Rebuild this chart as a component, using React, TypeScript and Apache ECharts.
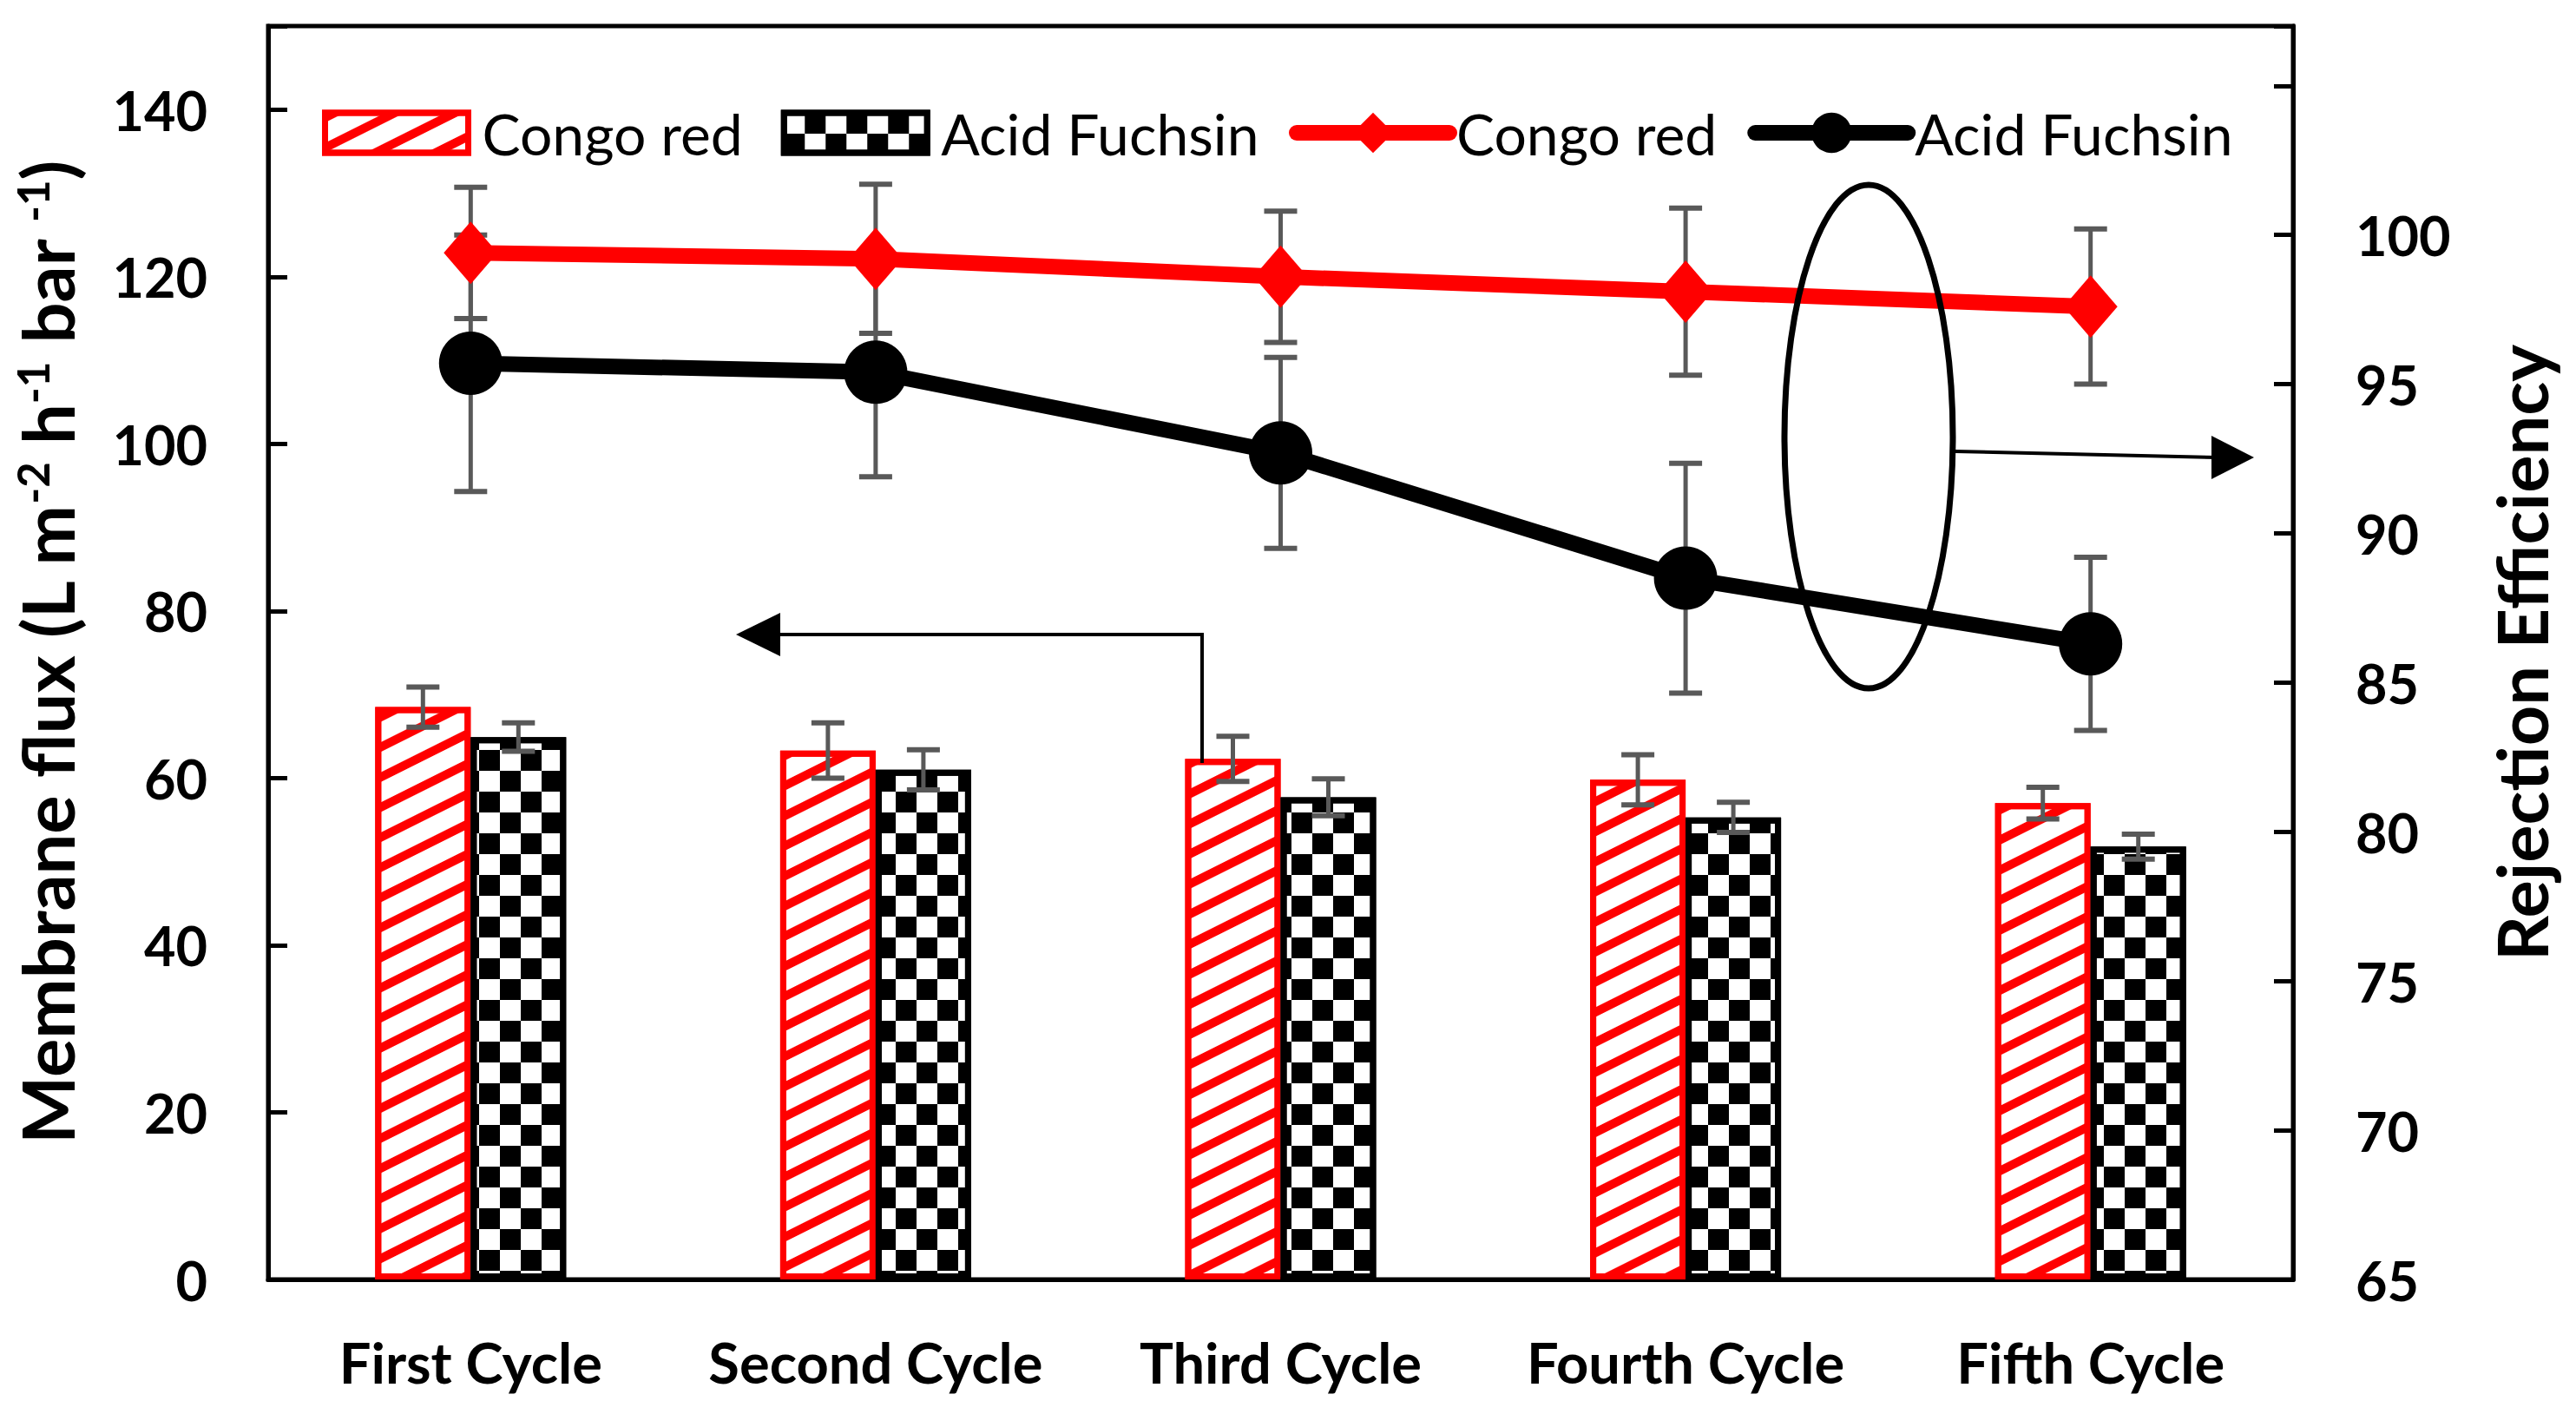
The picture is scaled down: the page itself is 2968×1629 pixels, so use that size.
import React, { useEffect, useRef } from 'react';
import * as echarts from 'echarts';

const categories = ['First Cycle', 'Second Cycle', 'Third Cycle', 'Fourth Cycle', 'Fifth Cycle'];
const fluxCongoRed = [68.5, 63.3, 62.3, 59.8, 57.0];
const fluxCongoRedErr = [2.4, 3.3, 2.7, 3.0, 1.9];
const fluxAcidFuchsin = [64.9, 61.0, 57.7, 55.3, 51.8];
const fluxAcidFuchsinErr = [1.7, 2.4, 2.2, 1.8, 1.5];
const rejCongoRed = [99.4, 99.2, 98.6, 98.1, 97.6];
const rejCongoRedErr = [2.2, 2.5, 2.2, 2.8, 2.6];
const rejAcidFuchsin = [95.7, 95.4, 92.7, 88.5, 86.3];
const rejAcidFuchsinErr = [4.3, 3.5, 3.2, 3.85, 2.9];
const fluxAxis = { min: 0, max: 150, interval: 20, lastLabel: 140 };
const rejAxis = { min: 65, max: 107, interval: 5, lastLabel: 100 };
const legendLabels: Record<string, string> = {
  crFlux: 'Congo red',
  afFlux: 'Acid Fuchsin',
  crRej: 'Congo red',
  afRej: 'Acid Fuchsin',
};

const FONT = 'Lato';
const RED = '#ff0000';
const ERR = '#595959';
const BAR_W = 110;
const CAP = 38;

const errorBars = (offset: number) => (params: any, api: any) => {
  const i = api.value(0);
  const v = api.value(1);
  const e = api.value(2);
  const top = api.coord([i, v + e]);
  const bot = api.coord([i, v - e]);
  const x = top[0] + offset;
  const hw = CAP / 2;
  return {
    type: 'group',
    children: [
      { type: 'line', shape: { x1: x, y1: top[1], x2: x, y2: bot[1] }, style: { stroke: ERR, lineWidth: 5 } },
      { type: 'line', shape: { x1: x - hw, y1: top[1], x2: x + hw, y2: top[1] }, style: { stroke: ERR, lineWidth: 6 } },
      { type: 'line', shape: { x1: x - hw, y1: bot[1], x2: x + hw, y2: bot[1] }, style: { stroke: ERR, lineWidth: 6 } },
    ],
  };
};

const errData = (vals: number[], errs: number[]) => vals.map((v, i) => [i, v, errs[i]]);

export default function App() {
  const ref = useRef<HTMLDivElement>(null);
  useEffect(() => {
    const chart = echarts.init(ref.current!, null, { renderer: 'svg' });
    const stripeDecal = {
      symbol: 'rect',
      symbolSize: 1,
      color: RED,
      backgroundColor: '#ffffff',
      dashArrayX: [1, 0],
      dashArrayY: [10, 21],
      rotation: -Math.atan(0.5),
    };
    const checkerDecal = {
      symbol: 'rect',
      symbolSize: 1,
      color: '#000000',
      backgroundColor: '#ffffff',
      dashArrayX: [[24, 24], [0, 24, 24, 0]],
      dashArrayY: [24, 0],
      rotation: 0,
    };
    const legendText = { fontFamily: FONT, fontSize: 66, color: '#000', padding: [0, 0, 0, 3] };
    const barLegendText = { fontFamily: FONT, fontSize: 66, color: '#000', padding: [0, 0, 0, 11] };
    const option: any = {
      animation: false,
      backgroundColor: '#ffffff',
      grid: {
        left: 309, right: 326, top: 30, bottom: 155,
        show: true, borderColor: '#000', borderWidth: 5, backgroundColor: 'transparent',
      },
      legend: [
        {
          left: 366, top: 115, itemWidth: 165, itemHeight: 46, itemGap: 44,
          textStyle: barLegendText,
          formatter: (n: string) => legendLabels[n],
          data: [
            { name: 'crFlux', icon: 'rect', itemStyle: { borderColor: RED, borderWidth: 7 } },
            { name: 'afFlux', icon: 'rect', itemStyle: { borderColor: '#000', borderWidth: 7 } },
          ],
        },
        {
          left: 1480, top: 115, itemWidth: 176, itemHeight: 58, itemGap: 35,
          textStyle: legendText,
          formatter: (n: string) => legendLabels[n],
          data: [
            { name: 'crRej', lineStyle: { width: 18, cap: 'round', color: RED } },
            { name: 'afRej', lineStyle: { width: 18, cap: 'round', color: '#000' } },
          ],
        },
      ],
      xAxis: {
        type: 'category',
        data: categories,
        axisLine: { show: true, lineStyle: { color: '#000', width: 5 } },
        axisTick: { show: false },
        splitLine: { show: false },
        axisLabel: { interval: 0, fontFamily: FONT, fontWeight: 'bold', fontSize: 65, color: '#000', margin: 62 },
      },
      yAxis: [
        {
          type: 'value', min: fluxAxis.min, max: fluxAxis.max, interval: fluxAxis.interval,
          position: 'left',
          axisLine: { show: true, lineStyle: { color: '#000', width: 5 } },
          axisTick: { show: true, inside: true, length: 22, lineStyle: { color: '#000', width: 5 } },
          splitLine: { show: false },
          axisLabel: {
            fontFamily: FONT, fontWeight: 'bold', fontSize: 63, color: '#000', margin: 70,
            formatter: (v: number) => (v > fluxAxis.lastLabel ? '' : String(v)),
          },
          name: 'Membrane flux (L m{sup|-2} h{sup|-1} bar {sup|-1})',
          nameLocation: 'middle',
          nameRotate: 90,
          nameGap: 214,
          nameTextStyle: {
            fontFamily: FONT, fontWeight: 'bold', fontSize: 83, color: '#000',
            rich: {
              sup: { fontFamily: FONT, fontWeight: 'bold', fontSize: 51, color: '#000', verticalAlign: 'top' },
            },
          },
        },
        {
          type: 'value', min: rejAxis.min, max: rejAxis.max, interval: rejAxis.interval,
          position: 'right',
          axisLine: { show: true, lineStyle: { color: '#000', width: 5 } },
          axisTick: { show: true, inside: true, length: 22, lineStyle: { color: '#000', width: 5 } },
          splitLine: { show: false },
          axisLabel: {
            fontFamily: FONT, fontWeight: 'bold', fontSize: 63, color: '#000', margin: 72,
            formatter: (v: number) => (v > rejAxis.lastLabel ? '' : String(v)),
          },
          name: 'Rejection Efficiency',
          nameLocation: 'middle',
          nameRotate: 90,
          nameGap: 222,
          nameTextStyle: { fontFamily: FONT, fontWeight: 'bold', fontSize: 81, color: '#000' },
        },
      ],
      series: [
        {
          name: 'crFlux', type: 'bar', data: fluxCongoRed, barWidth: BAR_W, barGap: '0%', z: 2,
          itemStyle: { color: '#ffffff', borderColor: RED, borderWidth: 7, decal: stripeDecal },
        },
        {
          name: 'afFlux', type: 'bar', data: fluxAcidFuchsin, barWidth: BAR_W, barGap: '0%', z: 2,
          itemStyle: { color: '#ffffff', borderColor: '#000', borderWidth: 7, decal: checkerDecal },
        },
        {
          type: 'custom', renderItem: errorBars(-BAR_W / 2), data: errData(fluxCongoRed, fluxCongoRedErr),
          encode: { x: 0, y: 1 }, z: 3, silent: true,
        },
        {
          type: 'custom', renderItem: errorBars(BAR_W / 2), data: errData(fluxAcidFuchsin, fluxAcidFuchsinErr),
          encode: { x: 0, y: 1 }, z: 3, silent: true,
        },
        {
          type: 'custom', renderItem: errorBars(0), data: errData(rejAcidFuchsin, rejAcidFuchsinErr),
          encode: { x: 0, y: 1 }, yAxisIndex: 1, z: 4, silent: true,
        },
        {
          type: 'custom', renderItem: errorBars(0), data: errData(rejCongoRed, rejCongoRedErr),
          encode: { x: 0, y: 1 }, yAxisIndex: 1, z: 4, silent: true,
        },
        {
          name: 'afRej', type: 'line', yAxisIndex: 1, data: rejAcidFuchsin, z: 5,
          symbol: 'circle', symbolSize: 73,
          lineStyle: { color: '#000', width: 18 }, itemStyle: { color: '#000' },
        },
        {
          name: 'crRej', type: 'line', yAxisIndex: 1, data: rejCongoRed, z: 6,
          symbol: 'diamond', symbolSize: [62, 72],
          lineStyle: { color: RED, width: 18 }, itemStyle: { color: RED },
        },
      ],
      graphic: [
        { type: 'ellipse', shape: { cx: 2153, cy: 503, rx: 97, ry: 290 }, style: { fill: 'none', stroke: '#000', lineWidth: 7 }, z: 20 },
        { type: 'line', shape: { x1: 2253, y1: 520, x2: 2555, y2: 527 }, style: { stroke: '#000', lineWidth: 4 }, z: 20 },
        { type: 'polygon', shape: { points: [[2597, 527], [2548, 502], [2548, 552]] }, style: { fill: '#000' }, z: 20 },
        { type: 'polyline', shape: { points: [[1385, 879], [1385, 731], [895, 731]] }, style: { stroke: '#000', lineWidth: 4, fill: 'none' }, z: 20 },
        { type: 'polygon', shape: { points: [[848, 731], [899, 706], [899, 756]] }, style: { fill: '#000' }, z: 20 },
      ],
    };
    chart.setOption(option);
    return () => chart.dispose();
  }, []);
  return (
    <div
      ref={ref}
      style={{ position: 'fixed', left: 0, top: 0, width: 2968, height: 1629, background: '#fff' }}
    />
  );
}
